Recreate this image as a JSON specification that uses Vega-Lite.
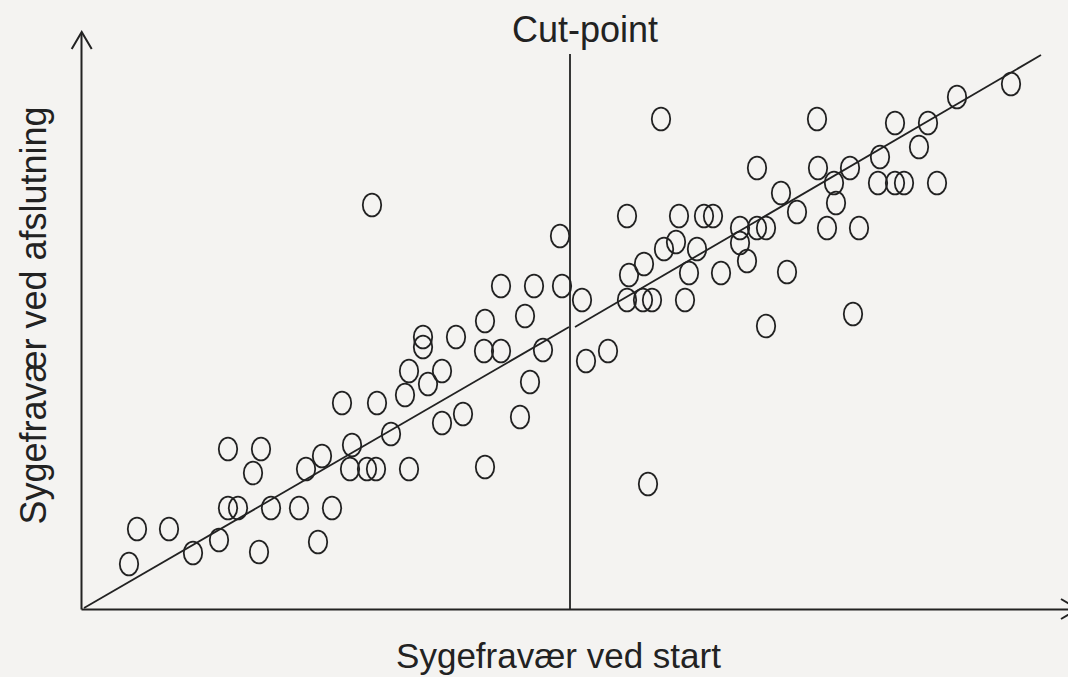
{
  "$schema": "https://vega.github.io/schema/vega-lite/v6.json",
  "autosize": {"type": "none"},
  "padding": {"left": 81, "top": 33, "right": 0, "bottom": 68},
  "width": 987,
  "height": 576,
  "background": "#f4f3f1",
  "config": {
    "view": {"stroke": null},
    "font": "Liberation Sans"
  },
  "datasets": {
    "obs": [
      {"start": 4.8, "end": 4.5}, {"start": 5.6, "end": 8.0}, {"start": 8.8, "end": 8.0}, {"start": 11.2, "end": 5.6},
      {"start": 13.8, "end": 6.9}, {"start": 14.7, "end": 10.1}, {"start": 15.7, "end": 10.1}, {"start": 14.7, "end": 16.0},
      {"start": 18.0, "end": 16.0}, {"start": 17.2, "end": 13.6}, {"start": 17.8, "end": 5.7}, {"start": 19.0, "end": 10.1},
      {"start": 21.8, "end": 10.1}, {"start": 22.5, "end": 14.0}, {"start": 24.1, "end": 15.3}, {"start": 23.7, "end": 6.7},
      {"start": 25.1, "end": 10.1}, {"start": 26.9, "end": 14.0}, {"start": 27.1, "end": 16.4}, {"start": 28.6, "end": 14.0},
      {"start": 29.5, "end": 14.0}, {"start": 31.0, "end": 17.5}, {"start": 32.8, "end": 14.0}, {"start": 26.1, "end": 20.6},
      {"start": 29.6, "end": 20.6}, {"start": 32.4, "end": 21.4}, {"start": 32.8, "end": 23.8}, {"start": 34.7, "end": 22.5},
      {"start": 36.1, "end": 23.8}, {"start": 34.2, "end": 27.2}, {"start": 34.2, "end": 26.2}, {"start": 37.5, "end": 27.2},
      {"start": 36.1, "end": 18.6}, {"start": 38.2, "end": 19.5}, {"start": 40.4, "end": 14.2}, {"start": 40.3, "end": 25.8},
      {"start": 42.0, "end": 25.8}, {"start": 40.4, "end": 28.8}, {"start": 44.4, "end": 29.3}, {"start": 42.0, "end": 32.3},
      {"start": 45.3, "end": 32.3}, {"start": 48.1, "end": 32.3}, {"start": 47.9, "end": 37.3}, {"start": 46.2, "end": 25.9},
      {"start": 44.9, "end": 22.7}, {"start": 43.9, "end": 19.2}, {"start": 29.1, "end": 40.4},
      {"start": 50.1, "end": 30.9}, {"start": 50.5, "end": 24.8}, {"start": 52.7, "end": 25.8}, {"start": 54.6, "end": 39.3},
      {"start": 54.8, "end": 33.4}, {"start": 54.6, "end": 30.9}, {"start": 56.2, "end": 30.9}, {"start": 57.1, "end": 30.9},
      {"start": 56.3, "end": 34.5}, {"start": 58.0, "end": 49.0}, {"start": 56.7, "end": 12.5}, {"start": 58.3, "end": 36.0},
      {"start": 59.5, "end": 36.7}, {"start": 59.8, "end": 39.3}, {"start": 60.4, "end": 30.9}, {"start": 60.8, "end": 33.6},
      {"start": 61.6, "end": 36.0}, {"start": 62.3, "end": 39.3}, {"start": 63.2, "end": 39.3}, {"start": 64.0, "end": 33.6},
      {"start": 65.9, "end": 38.1}, {"start": 65.9, "end": 36.6}, {"start": 66.6, "end": 34.8}, {"start": 67.6, "end": 38.1},
      {"start": 68.5, "end": 38.1}, {"start": 67.6, "end": 44.1}, {"start": 68.5, "end": 28.3}, {"start": 70.0, "end": 41.6},
      {"start": 70.6, "end": 33.7}, {"start": 71.6, "end": 39.7}, {"start": 73.6, "end": 49.0}, {"start": 73.7, "end": 44.1},
      {"start": 74.6, "end": 38.1}, {"start": 75.3, "end": 42.6}, {"start": 75.5, "end": 40.6}, {"start": 76.9, "end": 44.1},
      {"start": 77.2, "end": 29.5}, {"start": 77.8, "end": 38.1}, {"start": 79.7, "end": 42.6}, {"start": 79.9, "end": 45.2},
      {"start": 81.4, "end": 42.6}, {"start": 82.3, "end": 42.6}, {"start": 81.4, "end": 48.6}, {"start": 83.8, "end": 46.2},
      {"start": 84.7, "end": 48.6}, {"start": 85.6, "end": 42.6}, {"start": 87.6, "end": 51.2}, {"start": 93.0, "end": 52.5}
    ],
    "fit": [
      {"seg": "below", "start": 0.3, "end": 0.1},
      {"seg": "below", "start": 48.8, "end": 28.2},
      {"seg": "above", "start": 49.4, "end": 28.2},
      {"seg": "above", "start": 96.0, "end": 55.4}
    ],
    "cut": [{"start": 48.9, "end": 0, "end2": 55.5, "label": "Cut-point", "labelStart": 50.4, "labelEnd": 56.7}],
    "yarrow": [{"start": 0.07, "end": 57.7}],
    "xarrow": [{"start": 99.7, "end": 0.0}]
  },
  "layer": [
    {
      "data": {"name": "obs"},
      "mark": {
        "type": "point",
        "shape": "M 0.81,0 C 0.81,0.552 0.447,1 0,1 C -0.447,1 -0.81,0.552 -0.81,0 C -0.81,-0.552 -0.447,-1 0,-1 C 0.447,-1 0.81,-0.552 0.81,0 Z",
        "size": 520,
        "filled": false,
        "color": "#222222",
        "strokeWidth": 1.8,
        "opacity": 1
      },
      "encoding": {
        "x": {
          "field": "start", "type": "quantitative",
          "scale": {"domain": [0, 98.7], "nice": false, "zero": false},
          "axis": {
            "title": "Sygefravær ved start",
            "domain": true, "domainColor": "#222222", "domainWidth": 2,
            "ticks": false, "labels": false, "grid": false,
            "titleFont": "Liberation Sans", "titleFontSize": 35, "titleFontWeight": "normal",
            "titleColor": "#222222", "titleX": 477, "titleY": 58,
            "titleAlign": "center", "titleBaseline": "alphabetic"
          }
        },
        "y": {
          "field": "end", "type": "quantitative",
          "scale": {"domain": [0, 57.6], "nice": false, "zero": false},
          "axis": {
            "title": "Sygefravær ved afslutning",
            "domain": true, "domainColor": "#222222", "domainWidth": 2,
            "ticks": false, "labels": false, "grid": false,
            "titleFont": "Liberation Sans", "titleFontSize": 36, "titleFontWeight": "normal",
            "titleColor": "#222222", "titleX": -36, "titleY": 282,
            "titleAngle": -90, "titleAlign": "center", "titleBaseline": "alphabetic"
          }
        }
      }
    },
    {
      "data": {"name": "fit"},
      "mark": {"type": "line", "color": "#222222", "strokeWidth": 1.8},
      "encoding": {
        "x": {"field": "start", "type": "quantitative"},
        "y": {"field": "end", "type": "quantitative"},
        "detail": {"field": "seg", "type": "nominal"}
      }
    },
    {
      "data": {"name": "cut"},
      "mark": {"type": "rule", "color": "#222222", "strokeWidth": 1.8},
      "encoding": {
        "x": {"field": "start", "type": "quantitative"},
        "y": {"field": "end", "type": "quantitative"},
        "y2": {"field": "end2"}
      }
    },
    {
      "data": {"name": "cut"},
      "mark": {"type": "text", "font": "Liberation Sans", "fontSize": 36, "color": "#222222", "align": "center", "baseline": "alphabetic"},
      "encoding": {
        "x": {"field": "labelStart", "type": "quantitative"},
        "y": {"field": "labelEnd", "type": "quantitative"},
        "text": {"field": "label"}
      }
    },
    {
      "data": {"name": "yarrow"},
      "mark": {"type": "point", "shape": "M -1,1.7 L 0,0 L 1,1.7", "size": 400, "filled": false, "color": "#222222", "strokeWidth": 2, "opacity": 1},
      "encoding": {
        "x": {"field": "start", "type": "quantitative"},
        "y": {"field": "end", "type": "quantitative"}
      }
    },
    {
      "data": {"name": "xarrow"},
      "mark": {"type": "point", "shape": "M -1.7,-1 L 0,0 L -1.7,1", "size": 400, "filled": false, "color": "#222222", "strokeWidth": 2, "opacity": 1},
      "encoding": {
        "x": {"field": "start", "type": "quantitative"},
        "y": {"field": "end", "type": "quantitative"}
      }
    }
  ]
}
